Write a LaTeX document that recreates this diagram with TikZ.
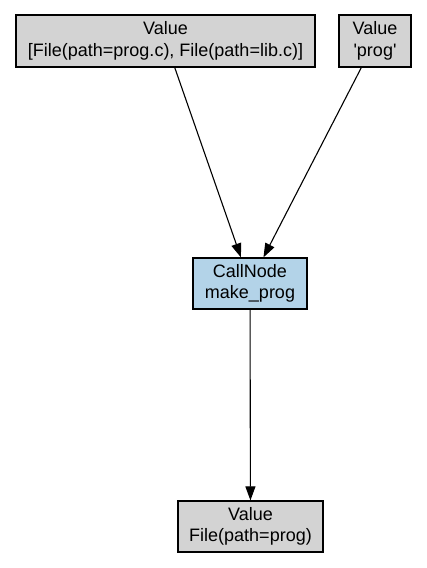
\documentclass[tikz,border=0pt]{standalone}
\usepackage{fontspec}
\setmainfont{Liberation Sans}
\usetikzlibrary{arrows.meta}
\definecolor{valgray}{HTML}{D3D3D3}
\definecolor{callblue}{HTML}{B3D3E8}
\tikzset{
  box/.style={draw=black, line width=1.2pt, rectangle, align=center, inner sep=0pt,
    font=\fontsize{18}{21.6}\selectfont},
  valbox/.style={box, fill=valgray},
  callbox/.style={box, fill=callblue},
  edge/.style={line width=1.1pt, -{Triangle[length=14pt,width=10pt]}}
}
\begin{document}
\begin{tikzpicture}[x=1pt,y=-1pt]
\useasboundingbox[fill=white] (0,0) rectangle (427,568);
\node[valbox, minimum width=299pt, minimum height=52pt] (v1) at (165.5,41) {Value\\{[}File(path=prog.c), File(path=lib.c)]};
\node[valbox, minimum width=72pt, minimum height=52pt] (v2) at (375,41) {Value\\\textquotesingle prog\textquotesingle};
\node[callbox, minimum width=114pt, minimum height=51pt] (call) at (250,283.5) {CallNode\\make\_prog};
\node[valbox, minimum width=145pt, minimum height=51pt] (out) at (250.5,526.5) {Value\\File(path=prog)};
\draw[edge] (v1) -- (call);
\draw[edge] (v2) -- (call);
\draw[edge] (call) -- (out);
\end{tikzpicture}
\end{document}
